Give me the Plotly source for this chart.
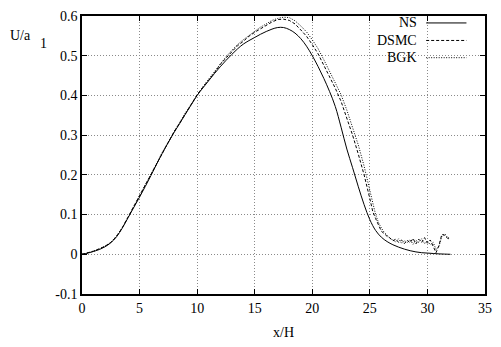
import plotly.graph_objects as go

# ---------------- data ----------------
ns_x = [0, 0.5, 1, 1.5, 2, 2.5, 3, 3.5, 4, 4.5, 5, 5.5, 6, 6.5, 7, 7.5, 8, 8.5, 9, 9.5,
        10, 10.5, 11, 11.5, 12, 12.5, 13, 13.5, 14, 14.5, 15, 15.5, 16, 16.5, 17, 17.5,
        18, 18.5, 19, 19.5, 20, 20.5, 21, 21.5, 22, 22.5, 23, 23.5, 24, 24.5, 25, 25.5,
        26, 26.5, 27, 27.5, 28, 28.5, 29, 29.5, 30, 30.5, 31, 31.5, 32]
ns_y = [0.0, 0.003, 0.007, 0.012, 0.019, 0.029, 0.044, 0.066, 0.092, 0.118, 0.144, 0.171,
        0.199, 0.228, 0.256, 0.282, 0.307, 0.33, 0.354, 0.377, 0.4, 0.419, 0.437, 0.455,
        0.472, 0.488, 0.503, 0.517, 0.529, 0.538, 0.546, 0.554, 0.561, 0.567, 0.571, 0.571,
        0.566, 0.557, 0.543, 0.524, 0.5, 0.473, 0.443, 0.41, 0.372, 0.32, 0.265, 0.218,
        0.17, 0.125, 0.087, 0.06, 0.043, 0.032, 0.024, 0.018, 0.013, 0.009, 0.006, 0.004,
        0.003, 0.002, 0.001, 0.0005, 0.0]

dsmc_x = [0, 0.5, 1, 1.5, 2, 2.5, 3, 3.5, 4, 4.5, 5, 5.5, 6, 6.5, 7, 7.5, 8, 8.5, 9, 9.5,
          10, 10.5, 11, 11.5, 12, 12.5, 13, 13.5, 14, 14.5, 15, 15.5, 16, 16.5, 17, 17.5,
          18, 18.5, 19, 19.5, 20, 20.5, 21, 21.5, 22, 22.5, 23, 23.5, 24, 24.5, 25,
          25.25, 25.5, 25.75, 26, 26.25, 26.5, 26.75, 27, 27.25, 27.5, 27.75, 28, 28.25,
          28.5, 28.75, 29, 29.25, 29.5, 29.75, 30, 30.25, 30.5, 30.75, 31, 31.25, 31.5,
          31.75, 32]
dsmc_y = [0.0, 0.004, 0.008, 0.014, 0.02, 0.03, 0.045, 0.067, 0.094, 0.12, 0.145, 0.173,
          0.2, 0.229, 0.257, 0.283, 0.309, 0.331, 0.356, 0.378, 0.402, 0.42, 0.44, 0.457,
          0.478, 0.494, 0.509, 0.525, 0.536, 0.549, 0.559, 0.568, 0.576, 0.585, 0.591, 0.592,
          0.589, 0.58, 0.565, 0.549, 0.528, 0.505, 0.476, 0.448, 0.418, 0.385, 0.345, 0.3,
          0.252, 0.2, 0.14, 0.108, 0.09, 0.074, 0.058, 0.052, 0.045, 0.041, 0.034, 0.038,
          0.03, 0.036, 0.027, 0.035, 0.029, 0.04, 0.026, 0.038, 0.03, 0.042, 0.028, 0.036,
          0.02, 0.004, 0.022, 0.05, 0.048, 0.04, 0.038]

bgk_x = [0, 0.5, 1, 1.5, 2, 2.5, 3, 3.5, 4, 4.5, 5, 5.5, 6, 6.5, 7, 7.5, 8, 8.5, 9, 9.5,
         10, 10.5, 11, 11.5, 12, 12.5, 13, 13.5, 14, 14.5, 15, 15.5, 16, 16.5, 17, 17.5,
         18, 18.5, 19, 19.5, 20, 20.5, 21, 21.5, 22, 22.5, 23, 23.5, 24, 24.5, 25,
         25.25, 25.5, 25.75, 26, 26.25, 26.5, 26.75, 27, 27.25, 27.5, 27.75, 28, 28.25,
         28.5, 28.75, 29, 29.25, 29.5, 29.75, 30, 30.25, 30.5, 30.75, 31, 31.25, 31.5,
         31.75, 32]
bgk_y = [0.0, 0.003, 0.008, 0.013, 0.021, 0.03, 0.046, 0.067, 0.093, 0.12, 0.145, 0.172,
         0.201, 0.23, 0.258, 0.284, 0.308, 0.333, 0.357, 0.379, 0.401, 0.422, 0.441, 0.459,
         0.48, 0.497, 0.513, 0.528, 0.54, 0.551, 0.562, 0.572, 0.58, 0.589, 0.594, 0.597,
         0.596, 0.588, 0.575, 0.56, 0.54, 0.518, 0.49, 0.462, 0.433, 0.402, 0.363, 0.32,
         0.275, 0.222, 0.165, 0.13, 0.1, 0.08, 0.066, 0.055, 0.048, 0.04, 0.036, 0.031,
         0.039, 0.028, 0.034, 0.03, 0.037, 0.025, 0.035, 0.03, 0.039, 0.027, 0.033, 0.024,
         0.03, 0.012, 0.02, 0.045, 0.052, 0.042, 0.04]

x_ticks = [0, 5, 10, 15, 20, 25, 30, 35]
y_ticks = [-0.1, 0, 0.1, 0.2, 0.3, 0.4, 0.5, 0.6]
y_tick_text = ["-0.1", "0", "0.1", "0.2", "0.3", "0.4", "0.5", "0.6"]
series_names = ["NS", "DSMC", "BGK"]

# ---------------- figure ----------------
FONT = "Liberation Serif"
fig = go.Figure()
styles = ["solid", "3px,2px", "1px,1.5px"]
shapes_ = ["spline", "linear", "linear"]
for (xs, ys), name, dash, shp in zip([(ns_x, ns_y), (dsmc_x, dsmc_y), (bgk_x, bgk_y)],
                                     series_names, styles, shapes_):
    fig.add_trace(go.Scatter(x=xs, y=ys, mode="lines", name=name,
                             line=dict(color="black", width=1, dash=dash, shape=shp)))

axis_common = dict(showline=True, linecolor="black", linewidth=1.5, mirror="ticks",
                   ticks="inside", ticklen=5, tickcolor="black", showgrid=True,
                   gridcolor="#8a8a8a", griddash="1px,2px", gridwidth=1, zeroline=False,
                   tickfont=dict(family=FONT, size=14, color="black"))

fig.update_layout(
    width=501, height=347,
    margin=dict(l=82, r=9, t=9, b=53),
    paper_bgcolor="white", plot_bgcolor="white",
    showlegend=False,
    xaxis=dict(range=[0, 35], tickvals=x_ticks, **axis_common),
    yaxis=dict(range=[-0.1, 0.6], tickvals=y_ticks, ticktext=y_tick_text, **axis_common),
    font=dict(family=FONT, size=14, color="black"),
)

# axis titles
fig.add_annotation(text="x/H", xref="paper", yref="paper", x=0.5, y=-0.137,
                   xanchor="center", yanchor="middle", showarrow=False,
                   font=dict(family=FONT, size=14))
fig.add_annotation(text="U/a", xref="paper", yref="paper", x=-0.183, y=0.930,
                   xanchor="left", yanchor="middle", showarrow=False,
                   font=dict(family=FONT, size=14))
fig.add_annotation(text="1", xref="paper", yref="paper", x=-0.110, y=0.902,
                   xanchor="left", yanchor="middle", showarrow=False,
                   font=dict(family=FONT, size=14))

# gnuplot-style key (text left, line sample right)
key_y = [0.975, 0.912, 0.850]
for name, dash, ky in zip(series_names, styles, key_y):
    fig.add_annotation(text=name, xref="paper", yref="paper", x=0.837, y=ky,
                       xanchor="right", yanchor="middle", showarrow=False,
                       font=dict(family=FONT, size=14))
    fig.add_shape(type="line", xref="paper", yref="paper", x0=0.854, x1=0.954,
                  y0=ky, y1=ky, line=dict(color="black", width=1, dash=dash))

fig.write_html("out.html")
